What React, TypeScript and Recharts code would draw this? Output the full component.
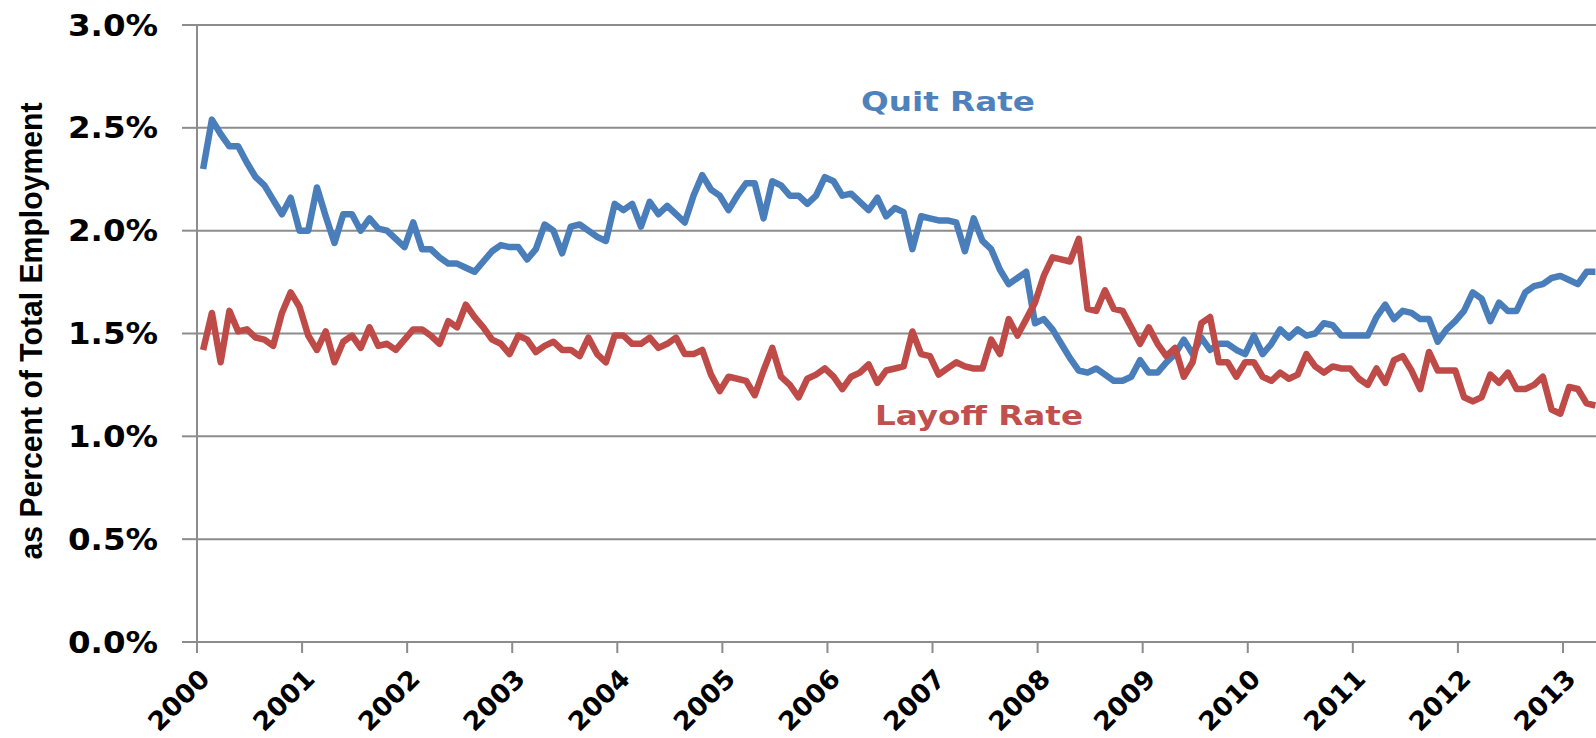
import React from 'react';
import { LineChart, Line, XAxis, YAxis, CartesianGrid } from 'recharts';

// monthly JOLTS rates, Jan 2000 .. Apr 2013 (percent of total employment)
const quitRate = [
  2.30, 2.54, 2.47, 2.41, 2.41, 2.33, 2.26, 2.22, 2.15, 2.08, 2.16, 2.00,
  2.00, 2.21, 2.07, 1.94, 2.08, 2.08, 2.00, 2.06, 2.01, 2.00, 1.96, 1.92,
  2.04, 1.91, 1.91, 1.87, 1.84, 1.84, 1.82, 1.80, 1.85, 1.90, 1.93, 1.92,
  1.92, 1.86, 1.91, 2.03, 2.00, 1.89, 2.02, 2.03, 2.00, 1.97, 1.95, 2.13,
  2.10, 2.13, 2.02, 2.14, 2.08, 2.12, 2.08, 2.04, 2.17, 2.27, 2.20, 2.17,
  2.10, 2.17, 2.23, 2.23, 2.06, 2.24, 2.22, 2.17, 2.17, 2.13, 2.17, 2.26,
  2.24, 2.17, 2.18, 2.14, 2.10, 2.16, 2.07, 2.11, 2.09, 1.91, 2.07, 2.06,
  2.05, 2.05, 2.04, 1.90, 2.06, 1.95, 1.91, 1.81, 1.74, 1.77, 1.80, 1.55,
  1.57, 1.52, 1.45, 1.38, 1.32, 1.31, 1.33, 1.30, 1.27, 1.27, 1.29, 1.37,
  1.31, 1.31, 1.36, 1.40, 1.47, 1.40, 1.48, 1.42, 1.45, 1.45, 1.42, 1.40,
  1.49, 1.40, 1.45, 1.52, 1.48, 1.52, 1.49, 1.50, 1.55, 1.54, 1.49, 1.49,
  1.49, 1.49, 1.58, 1.64, 1.57, 1.61, 1.60, 1.57, 1.57, 1.46, 1.52, 1.56,
  1.61, 1.70, 1.67, 1.56, 1.65, 1.61, 1.61, 1.70, 1.73, 1.74, 1.77, 1.78,
  1.76, 1.74, 1.80, 1.80,
];

const layoffRate = [
  1.42, 1.60, 1.36, 1.61, 1.51, 1.52, 1.48, 1.47, 1.44, 1.60, 1.70, 1.63,
  1.49, 1.42, 1.51, 1.36, 1.46, 1.49, 1.43, 1.53, 1.44, 1.45, 1.42, 1.47,
  1.52, 1.52, 1.49, 1.45, 1.56, 1.53, 1.64, 1.58, 1.53, 1.47, 1.45, 1.40,
  1.49, 1.47, 1.41, 1.44, 1.46, 1.42, 1.42, 1.39, 1.48, 1.40, 1.36, 1.49,
  1.49, 1.45, 1.45, 1.48, 1.43, 1.45, 1.48, 1.40, 1.40, 1.42, 1.30, 1.22,
  1.29, 1.28, 1.27, 1.20, 1.32, 1.43, 1.29, 1.25, 1.19, 1.28, 1.30, 1.33,
  1.29, 1.23, 1.29, 1.31, 1.35, 1.26, 1.32, 1.33, 1.34, 1.51, 1.40, 1.39,
  1.30, 1.33, 1.36, 1.34, 1.33, 1.33, 1.47, 1.40, 1.57, 1.49, 1.57, 1.65,
  1.78, 1.87, 1.86, 1.85, 1.96, 1.62, 1.61, 1.71, 1.62, 1.61, 1.53, 1.45,
  1.53, 1.45, 1.39, 1.43, 1.29, 1.36, 1.55, 1.58, 1.36, 1.36, 1.29, 1.36,
  1.36, 1.29, 1.27, 1.31, 1.28, 1.30, 1.40, 1.34, 1.31, 1.34, 1.33, 1.33,
  1.28, 1.25, 1.33, 1.26, 1.37, 1.39, 1.32, 1.23, 1.41, 1.32, 1.32, 1.32,
  1.19, 1.17, 1.19, 1.30, 1.26, 1.31, 1.23, 1.23, 1.25, 1.29, 1.13, 1.11,
  1.24, 1.23, 1.16, 1.15,
];

const years = [
  '2000', '2001', '2002', '2003', '2004', '2005', '2006',
  '2007', '2008', '2009', '2010', '2011', '2012', '2013',
];

const pctTicks = [0, 0.5, 1, 1.5, 2, 2.5, 3];

const BLUE = '#4A7EBB';
const RED = '#BE4B48';
const GRID = '#8c8c8c';

// Excel puts each year tick slightly before the first month's point
const TICK_SHIFT = -0.7;

const rows = quitRate.map((q, i) => ({ m: i, quit: q, layoff: layoffRate[i] }));
const yearTicks = years.map((_, k) => k * 12 + TICK_SHIFT);

function PctTick(props: any) {
  const { x, y, payload } = props;
  return (
    <text
      x={x}
      y={y}
      textAnchor="end"
      dominantBaseline="central"
      fontFamily="DejaVu Sans"
      fontWeight="bold"
      fontSize={30}
      fill="#000"
      textLength={90}
      lengthAdjust="spacingAndGlyphs"
    >
      {payload.value.toFixed(1) + '%'}
    </text>
  );
}

function YearTick(props: any) {
  const { x, payload } = props;
  const idx = Math.round((payload.value - TICK_SHIFT) / 12);
  const tx = x + 8;
  const ty = 674;
  return (
    <text
      x={tx}
      y={ty}
      textAnchor="end"
      dominantBaseline="central"
      transform={`rotate(-45, ${tx}, ${ty})`}
      fontFamily="DejaVu Sans"
      fontWeight="bold"
      fontSize={26}
      fill="#000"
      textLength={74}
      lengthAdjust="spacingAndGlyphs"
    >
      {years[idx]}
    </text>
  );
}

export default function App() {
  return (
    <div
      style={{
        position: 'absolute',
        left: 0,
        top: 0,
        width: 1596,
        height: 738,
        overflow: 'hidden',
        background: '#fff',
      }}
    >
      <LineChart
        width={1610}
        height={738}
        data={rows}
        margin={{ top: 25, right: 12, bottom: 0, left: 0 }}
      >
        <CartesianGrid vertical={false} stroke={GRID} strokeWidth={2} />
        <XAxis
          dataKey="m"
          type="number"
          domain={[TICK_SHIFT, 159.3]}
          ticks={yearTicks}
          interval={0}
          allowDataOverflow
          height={96}
          tickSize={11}
          axisLine={{ stroke: GRID, strokeWidth: 2 }}
          tickLine={{ stroke: GRID, strokeWidth: 2 }}
          tick={<YearTick />}
        />
        <YAxis
          type="number"
          domain={[0, 3]}
          ticks={pctTicks}
          interval={0}
          width={197}
          tickSize={15}
          tickMargin={24}
          axisLine={{ stroke: GRID, strokeWidth: 2 }}
          tickLine={{ stroke: GRID, strokeWidth: 2 }}
          tick={<PctTick />}
        />
        <Line
          type="linear"
          dataKey="quit"
          stroke={BLUE}
          strokeWidth={6.5}
          strokeLinejoin="round"
          dot={false}
          isAnimationActive={false}
        />
        <Line
          type="linear"
          dataKey="layoff"
          stroke={RED}
          strokeWidth={6.5}
          strokeLinejoin="round"
          dot={false}
          isAnimationActive={false}
        />
      </LineChart>
      <svg
        width={1596}
        height={738}
        style={{ position: 'absolute', left: 0, top: 0, pointerEvents: 'none' }}
      >
        <text
          x={31}
          y={331}
          textAnchor="middle"
          dominantBaseline="central"
          transform="rotate(-90, 31, 331)"
          fontFamily="Liberation Sans, Arial, sans-serif"
          fontWeight="bold"
          fontSize={31}
          fill="#000"
          textLength={457}
          lengthAdjust="spacingAndGlyphs"
        >
          as Percent of Total Employment
        </text>
        <text
          x={948}
          y={111}
          textAnchor="middle"
          fontFamily="DejaVu Sans"
          fontWeight="bold"
          fontSize={26}
          fill="#4F81BD"
          textLength={174}
          lengthAdjust="spacingAndGlyphs"
        >
          Quit Rate
        </text>
        <text
          x={979}
          y={425}
          textAnchor="middle"
          fontFamily="DejaVu Sans"
          fontWeight="bold"
          fontSize={27}
          fill="#C0504D"
          textLength={208}
          lengthAdjust="spacingAndGlyphs"
        >
          Layoff Rate
        </text>
      </svg>
    </div>
  );
}
